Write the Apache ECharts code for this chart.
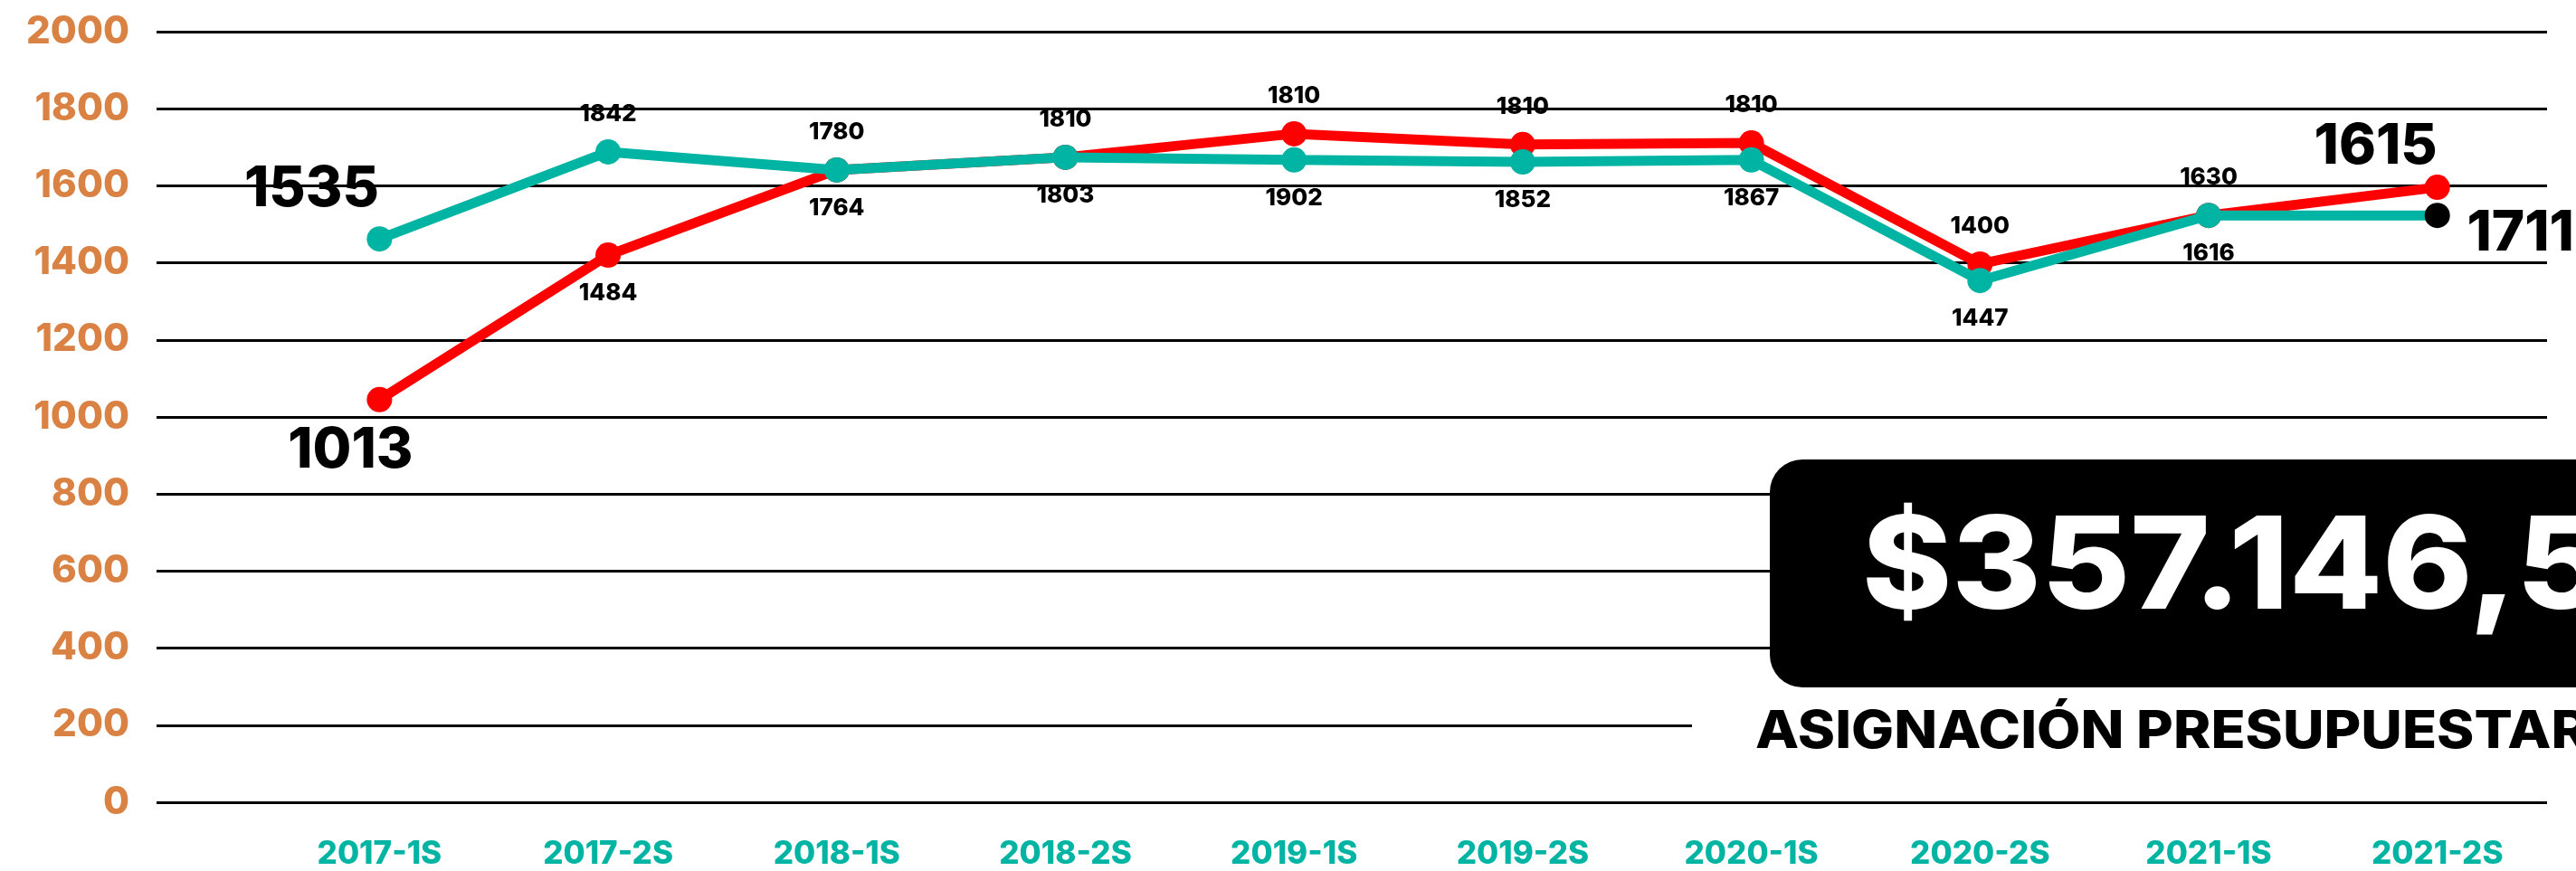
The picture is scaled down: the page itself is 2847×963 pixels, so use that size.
<!DOCTYPE html>
<html>
<head>
<meta charset="utf-8">
<script src="https://cdn.jsdelivr.net/npm/echarts@6/dist/echarts.min.js"></script>
<style>
  html, body { margin: 0; padding: 0; background: #fff; }
  #chart { width: 2847px; height: 963px; }
</style>
</head>
<body>
<div id="chart"></div>
<script>
// periodos
const categorias = ['2017-1S', '2017-2S', '2018-1S', '2018-2S', '2019-1S', '2019-2S', '2020-1S', '2020-2S', '2021-1S', '2021-2S']
// valores
const valoresRojo = [1045, 1420, 1641, 1674, 1735, 1707, 1711, 1397, 1523, 1596]
const valoresVerde = [1462, 1688, 1641, 1674, 1667, 1662, 1667, 1354, 1523, 1523]
// textos de las etiquetas
const etiquetasRojo = ['1013', '1484', '1764', '1803', '1810', '1810', '1810', '1400', '1630', '1615']
const etiquetasVerde = ['1535', '1842', '1780', '1810', '1902', '1852', '1867', '1447', '1616', '1711']
const ticksY = [0, 200, 400, 600, 800, 1000, 1200, 1400, 1600, 1800, 2000]

const FONT = 'Inter'
const ROJO = '#ff0000'
const VERDE = '#00b4a4'

function buildData(values, labels, isRed) {
  return values.map((v, i) => {
    const last = i === values.length - 1
    const up = isRed ? i >= 4 : i < 4
    let offset = [0, up ? -42 : 42]
    let fontSize = 26
    if (i === 0 && !isRed) { offset = [-75, -55]; fontSize = 62 }
    if (i === 0 && isRed) { offset = [-32, 57]; fontSize = 62 }
    if (last && isRed) { offset = [-68, -45]; fontSize = 62 }
    if (last && !isRed) { offset = [92, 20]; fontSize = 62 }
    const item = {
      value: [i, v],
      label: { offset, fontSize, formatter: labels[i] }
    }
    if (last && !isRed) item.itemStyle = { color: '#000' }
    return item
  })
}

const chart = echarts.init(document.getElementById('chart'))
chart.setOption({
  animation: false,
  backgroundColor: '#fff',
  grid: { left: 173, right: 32, top: 35, bottom: 76, containLabel: false },
  xAxis: {
    type: 'value',
    min: -0.975,
    max: 9.48,
    axisLine: { show: false },
    axisTick: { show: false },
    splitLine: { show: false },
    axisLabel: {
      customValues: categorias.map((c, i) => i),
      formatter: v => categorias[Math.round(v)] || '',
      color: VERDE,
      fontFamily: FONT,
      fontWeight: 800,
      fontSize: 35,
      margin: 40
    }
  },
  yAxis: {
    type: 'value',
    min: ticksY[0],
    max: ticksY[ticksY.length - 1],
    interval: 200,
    axisLine: { show: false },
    axisTick: { show: false },
    splitLine: { lineStyle: { color: '#000', width: 3 } },
    axisLabel: {
      formatter: v => String(v),
      color: '#d98244',
      fontFamily: FONT,
      fontWeight: 800,
      fontSize: 42,
      margin: 30
    }
  },
  series: [
    {
      name: 'rojo',
      type: 'line',
      data: buildData(valoresRojo, etiquetasRojo, true),
      symbol: 'circle',
      symbolSize: 28,
      lineStyle: { color: ROJO, width: 11 },
      itemStyle: { color: ROJO },
      label: {
        show: true,
        position: 'inside',
        color: '#000',
        fontFamily: FONT,
        fontWeight: 800
      },
      z: 2
    },
    {
      name: 'verde',
      type: 'line',
      data: buildData(valoresVerde, etiquetasVerde, false),
      symbol: 'circle',
      symbolSize: 28,
      lineStyle: { color: VERDE, width: 11 },
      itemStyle: { color: VERDE },
      label: {
        show: true,
        position: 'inside',
        color: '#000',
        fontFamily: FONT,
        fontWeight: 800
      },
      z: 3
    }
  ],
  graphic: [
    {
      type: 'rect',
      z: 10,
      shape: { x: 1956, y: 508, width: 1000, height: 252, r: 36 },
      style: { fill: '#000' }
    },
    {
      type: 'text',
      z: 11,
      x: 2058,
      y: 630,
      scaleX: 1.06,
      style: {
        text: '$357.146,55',
        fill: '#fff',
        fontFamily: FONT,
        fontWeight: 800,
        fontSize: 142,
        verticalAlign: 'middle'
      }
    },
    {
      type: 'rect',
      z: 10,
      shape: { x: 1870, y: 782, width: 1000, height: 54 },
      style: { fill: '#fff' }
    },
    {
      type: 'text',
      z: 11,
      x: 1940,
      y: 810,
      scaleX: 1.08,
      style: {
        text: 'ASIGNACIÓN PRESUPUESTARIA',
        fill: '#000',
        fontFamily: FONT,
        fontWeight: 800,
        fontSize: 58,
        verticalAlign: 'middle'
      }
    }
  ]
})
window.addEventListener('resize', () => chart.resize())
</script>
</body>
</html>
